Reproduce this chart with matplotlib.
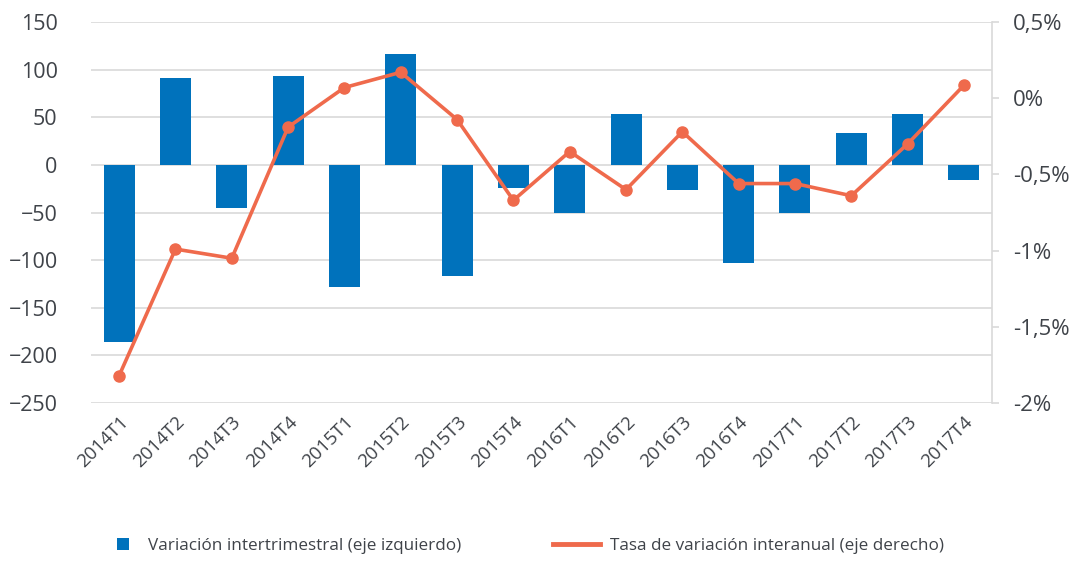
import numpy as np
import matplotlib.pyplot as plt
from matplotlib.lines import Line2D
from matplotlib.patches import Patch

plt.rcParams['font.family'] = ['Open Sans', 'DejaVu Sans']

quarters = ['2014T1', '2014T2', '2014T3', '2014T4', '2015T1', '2015T2', '2015T3', '2015T4',
            '2016T1', '2016T2', '2016T3', '2016T4', '2017T1', '2017T2', '2017T3', '2017T4']
var_inter = [-186, 91, -45, 93, -128, 116, -117, -24, -51, 53, -26, -103, -51, 33, 53, -16]
tasa_anual = [-1.82, -0.99, -1.05, -0.19, 0.07, 0.17, -0.14, -0.67,
              -0.35, -0.60, -0.22, -0.56, -0.56, -0.64, -0.30, 0.085]

blue = '#0072BC'
orange = '#EF6A4C'
txt = '#3F4349'
grid = '#D9D9D9'

fig = plt.figure(figsize=(10.87, 5.61), dpi=100)
ax = fig.add_axes([0.0837, 0.2816, 0.829, 0.6792])
ax2 = ax.twinx()

x = np.arange(len(quarters))
ax.bar(x, var_inter, width=0.55, color=blue, zorder=2)
ax.set_ylim(-250, 150)
ax.set_yticks(range(-250, 151, 50))
ax.set_xlim(-0.5, len(quarters) - 0.5)
ax.yaxis.grid(True, color=grid, linewidth=1.2, zorder=0)
ax.set_axisbelow(True)
ax.set_xticks(x)
ax.set_xticklabels(quarters, rotation=45, ha='right', rotation_mode='anchor')
ax.tick_params(axis='x', length=0, pad=7, labelsize=13.5, colors=txt)
ax.tick_params(axis='y', length=0, pad=24, labelsize=15.5, colors=txt)

ax2.plot(x, tasa_anual, color=orange, linewidth=2.6, marker='o', markersize=8, zorder=3)
ax2.set_ylim(-2, 0.5)
ax2.set_yticks([0.5, 0, -0.5, -1, -1.5, -2])
ax2.set_yticklabels(['0,5%', '0%', '-0,5%', '-1%', '-1,5%', '-2%'])
ax2.tick_params(axis='y', length=5, width=1.2, color=grid, pad=10, labelsize=16, labelcolor=txt)

for s in ['top', 'left', 'bottom']:
    ax.spines[s].set_visible(False)
    ax2.spines[s].set_visible(False)
ax.spines['right'].set_visible(False)
ax2.spines['right'].set_color(grid)
ax2.spines['right'].set_linewidth(1.2)

# two separate legend entries so the handles can have different lengths
fig.legend([Patch(facecolor=blue, edgecolor='none')],
           ['Variación intertrimestral (eje izquierdo)'],
           loc='center left', bbox_to_anchor=(117 / 1087, 1 - 546 / 561),
           frameon=False, fontsize=12.3, labelcolor=txt, borderpad=0, borderaxespad=0,
           handlelength=0.7, handleheight=0.7, handletextpad=1.1)
fig.legend([Line2D([0], [0], color=orange, linewidth=3.5)],
           ['Tasa de variación interanual (eje derecho)'],
           loc='center left', bbox_to_anchor=(553 / 1087, 1 - 546 / 561),
           frameon=False, fontsize=12.3, labelcolor=txt, borderpad=0, borderaxespad=0,
           handlelength=2.75, handletextpad=0.6)

fig.savefig('out.png', dpi=100)
